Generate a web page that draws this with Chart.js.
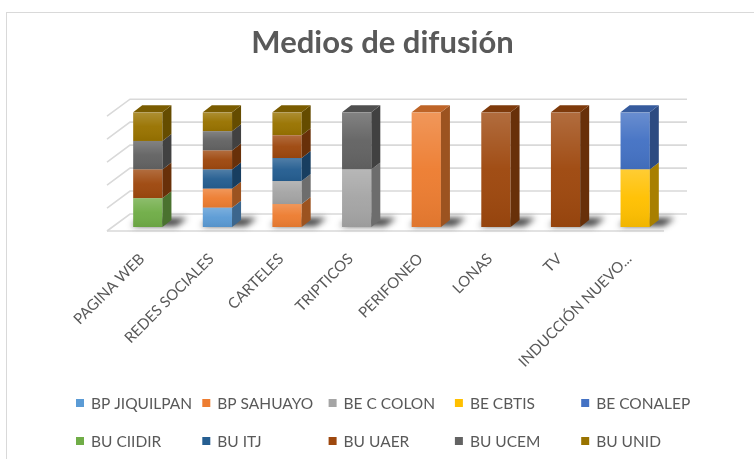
<!DOCTYPE html>
<html lang="es">
<head>
<meta charset="utf-8">
<title>Medios de difusión</title>
<script src="https://cdn.jsdelivr.net/npm/chart.js@4.4.1/dist/chart.umd.min.js"></script>
<style>
  html, body { margin: 0; padding: 0; background: #ffffff; }
  #wrap { position: relative; width: 754px; height: 459px; overflow: hidden; }
  canvas { display: block; }
</style>
</head>
<body>
<div id="wrap"><canvas id="chart" width="754" height="459"></canvas></div>
<script>
// Categories (media) and number of mentions per unit
const categories = ['PAGINA WEB', 'REDES SOCIALES', 'CARTELES', 'TRIPTICOS', 'PERIFONEO', 'LONAS', 'TV', 'INDUCCIÓN NUEVO...'];

const bpJiquilpan = [0, 1, 0, 0, 0, 0, 0, 0];
const bpSahuayo   = [0, 1, 1, 0, 1, 0, 0, 0];
const beCColon    = [0, 0, 1, 1, 0, 0, 0, 0];
const beCbtis     = [0, 0, 0, 0, 0, 0, 0, 1];
const beConalep   = [0, 0, 0, 0, 0, 0, 0, 1];
const buCiidir    = [1, 0, 0, 0, 0, 0, 0, 0];
const buItj       = [0, 1, 1, 0, 0, 0, 0, 0];
const buUaer      = [1, 1, 1, 0, 0, 1, 1, 0];
const buUcem      = [1, 1, 0, 1, 0, 0, 0, 0];
const buUnid      = [1, 1, 1, 0, 0, 0, 0, 0];

const seriesNames = ['BP JIQUILPAN', 'BP SAHUAYO', 'BE C COLON', 'BE CBTIS', 'BE CONALEP',
                     'BU CIIDIR', 'BU ITJ', 'BU UAER', 'BU UCEM', 'BU UNID'];
const seriesValues = [bpJiquilpan, bpSahuayo, beCColon, beCbtis, beConalep,
                      buCiidir, buItj, buUaer, buUcem, buUnid];

// Percentage axis ticks (100% stacked)
const percentTicks = [0, 20, 40, 60, 80, 100];

const seriesColors = ['#5B9BD5', '#ED7D31', '#A5A5A5', '#FFC000', '#4472C4',
                      '#70AD47', '#255E91', '#9E480E', '#636363', '#997300'];

const TEXT_COLOR = '#595959';
const FONT = 'Lato, "Open Sans", sans-serif';

// Totals per category, so each column fills 100 %
const totals = categories.map((_, i) => seriesValues.reduce((s, arr) => s + arr[i], 0));

const datasets = seriesNames.map((name, k) => ({
  label: name,
  data: seriesValues[k].map((v, i) => totals[i] ? v / totals[i] * 100 : 0),
  backgroundColor: seriesColors[k],
  borderWidth: 0,
  barPercentage: 0.42,
  categoryPercentage: 1
}));

// 3D projection offsets (pixels)
const WALL  = { dx: 17, dy: -13 };  // back wall relative to bar fronts
const FRONT = { dx: -6, dy: 4 };    // floor front edge relative to bar fronts
const DEPTH = { dx: 9,  dy: -7 };   // depth of each column

function shade(hex, f) {
  const n = parseInt(hex.slice(1), 16);
  const r = Math.round(((n >> 16) & 255) * f);
  const g = Math.round(((n >> 8) & 255) * f);
  const b = Math.round((n & 255) * f);
  return `rgb(${Math.min(r,255)},${Math.min(g,255)},${Math.min(b,255)})`;
}

function poly(ctx, pts) {
  ctx.beginPath();
  ctx.moveTo(pts[0][0], pts[0][1]);
  for (let i = 1; i < pts.length; i++) ctx.lineTo(pts[i][0], pts[i][1]);
  ctx.closePath();
}

// Back wall, side wall gridlines, floor and column shadows
const box3d = {
  id: 'box3d',
  beforeDraw(chart) {
    const ctx = chart.ctx;
    ctx.save();
    ctx.strokeStyle = '#d9d9d9';
    ctx.lineWidth = 1;
    ctx.strokeRect(6.5, 12.5, 800, 500);
    ctx.restore();
  },
  beforeDatasetsDraw(chart) {
    const ctx = chart.ctx;
    const a = chart.chartArea;
    const ys = chart.scales.y;
    ctx.save();
    ctx.strokeStyle = '#d9d9d9';
    ctx.lineWidth = 1.6;
    percentTicks.forEach(v => {
      const py = ys.getPixelForValue(v);
      ctx.beginPath();
      ctx.moveTo(a.left + FRONT.dx, py + FRONT.dy);
      ctx.lineTo(a.left + WALL.dx, py + WALL.dy);
      ctx.lineTo(a.right + WALL.dx, py + WALL.dy);
      ctx.stroke();
    });
    const y0 = ys.getPixelForValue(0);
    ctx.beginPath();
    ctx.moveTo(a.left + FRONT.dx, y0 + FRONT.dy);
    ctx.lineTo(a.right + FRONT.dx, y0 + FRONT.dy);
    ctx.stroke();

    // soft shadows on the floor
    const meta = chart.getDatasetMeta(0);
    ctx.filter = 'blur(3px)';
    ctx.fillStyle = 'rgba(25,25,25,0.85)';
    meta.data.forEach(bar => {
      const x0 = bar.x - bar.width / 2, x1 = bar.x + bar.width / 2;
      poly(ctx, [
        [x0 - 2, y0 - 1],
        [x1 + 14, y0 - 1],
        [x1 + WALL.dx + 8, y0 + WALL.dy + 4],
        [x0 + WALL.dx - 8, y0 + WALL.dy + 4]
      ]);
      ctx.fill();
    });
    ctx.filter = 'none';
    ctx.restore();
  },
  afterDatasetsDraw(chart) {
    const ctx = chart.ctx;
    const n = categories.length;
    ctx.save();
    for (let i = 0; i < n; i++) {
      let top = null;
      chart.data.datasets.forEach((ds, k) => {
        const bar = chart.getDatasetMeta(k).data[i];
        if (!bar || Math.abs(bar.base - bar.y) < 0.5) return;
        const x0 = bar.x - bar.width / 2, x1 = bar.x + bar.width / 2;
        const yt = Math.min(bar.y, bar.base), yb = Math.max(bar.y, bar.base);
        // front face shading
        const g = ctx.createLinearGradient(0, yt, 0, yb);
        g.addColorStop(0, 'rgba(255,255,255,0.2)');
        g.addColorStop(0.5, 'rgba(255,255,255,0.03)');
        g.addColorStop(1, 'rgba(0,0,0,0.06)');
        ctx.fillStyle = g;
        ctx.fillRect(x0, yt, x1 - x0, yb - yt);
        // right side face
        ctx.fillStyle = shade(seriesColors[k], 0.66);
        poly(ctx, [[x1, yt], [x1 + DEPTH.dx, yt + DEPTH.dy], [x1 + DEPTH.dx, yb + DEPTH.dy], [x1, yb]]);
        ctx.fill();
        if (top === null || yt < top.yt) top = { x0, x1, yt, k };
      });
      if (top) {
        ctx.fillStyle = shade(seriesColors[top.k], 0.8);
        poly(ctx, [[top.x0, top.yt], [top.x1, top.yt],
                   [top.x1 + DEPTH.dx, top.yt + DEPTH.dy], [top.x0 + DEPTH.dx, top.yt + DEPTH.dy]]);
        ctx.fill();
      }
    }
    ctx.restore();
  },
  // legend laid out on a fixed 5-column grid
  afterDraw(chart) {
    const ctx = chart.ctx;
    const cols = 5, colStart = 76, colWidth = 126.3;
    const rows = [403, 441];
    ctx.save();
    ctx.font = `15.5px ${FONT}`;
    ctx.textBaseline = 'middle';
    ctx.textAlign = 'left';
    seriesNames.forEach((name, k) => {
      const c = k % cols, r = Math.floor(k / cols);
      const x = colStart + c * colWidth, y = rows[r];
      ctx.fillStyle = seriesColors[k];
      ctx.fillRect(x, y - 4, 8, 8);
      ctx.fillStyle = TEXT_COLOR;
      ctx.fillText(name, x + 15, y + 1);
    });
    ctx.restore();
  }
};

new Chart(document.getElementById('chart'), {
  type: 'bar',
  data: { labels: categories, datasets },
  options: {
    responsive: false,
    animation: false,
    devicePixelRatio: 1,
    layout: { padding: { left: 95, right: 84, top: 0, bottom: 92 } },
    plugins: {
      legend: { display: false },
      tooltip: { enabled: false },
      title: {
        display: true,
        text: 'Medios de difusión',
        color: TEXT_COLOR,
        font: { family: FONT, size: 31, weight: 'bold' },
        padding: { top: 24, bottom: 51 }
      }
    },
    scales: {
      x: {
        stacked: true,
        grid: { display: false },
        border: { display: false },
        ticks: {
          color: TEXT_COLOR,
          font: { family: FONT, size: 15 },
          minRotation: 45,
          maxRotation: 45,
          autoSkip: false,
          padding: 15,
          labelOffset: -6
        },
        afterFit(scale) { scale.height = 140; }
      },
      y: {
        stacked: true,
        min: 0,
        max: 100,
        ticks: { display: false, stepSize: 20 },
        grid: { display: false },
        border: { display: false },
        afterFit(scale) { scale.width = 18; }
      }
    }
  },
  plugins: [box3d]
});
</script>
</body>
</html>
